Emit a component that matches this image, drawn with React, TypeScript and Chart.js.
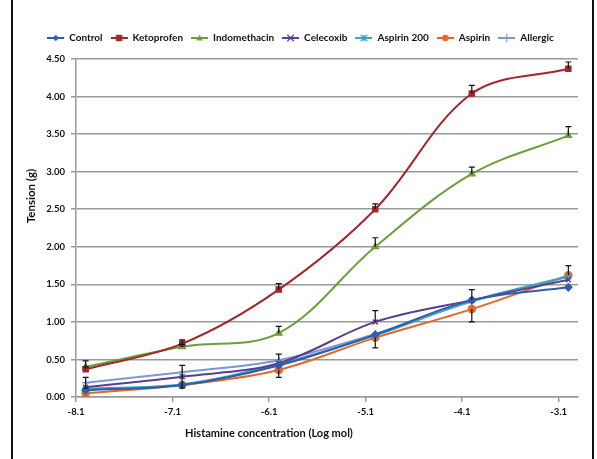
import React, { useEffect, useRef } from "react";
import { Chart, registerables } from "chart.js";

Chart.register(...registerables);

const xValues = [-8, -7, -6, -5, -4, -3];
const xTickValues = [-8.1, -7.1, -6.1, -5.1, -4.1, -3.1];

const seriesNames = ["Control", "Ketoprofen", "Indomethacin", "Celecoxib", "Aspirin 200", "Aspirin", "Allergic"];

const control = [0.09, 0.16, 0.42, 0.83, 1.29, 1.46];
const ketoprofen = [0.37, 0.71, 1.43, 2.5, 4.04, 4.37];
const indomethacin = [0.4, 0.67, 0.85, 2.0, 2.97, 3.48];
const celecoxib = [0.13, 0.27, 0.45, 1.0, 1.29, 1.56];
const aspirin200 = [0.11, 0.17, 0.44, 0.82, 1.28, 1.6];
const aspirin = [0.05, 0.16, 0.36, 0.79, 1.17, 1.62];
const allergic = [0.19, 0.33, 0.49, 0.84, 1.27, 1.61];

// error bars (upper / lower half-lengths)
const controlErrUp = [0, 0, 0, 0, 0, 0];
const controlErrDown = [0, 0, 0, 0, 0, 0];
const ketoprofenErrUp = [0.03, 0.05, 0.08, 0.07, 0.11, 0.09];
const ketoprofenErrDown = [0, 0, 0, 0, 0, 0];
const indomethacinErrUp = [0.08, 0.03, 0.09, 0.12, 0.09, 0.12];
const indomethacinErrDown = [0, 0, 0, 0, 0, 0];
const celecoxibErrUp = [0, 0.15, 0, 0.15, 0.14, 0];
const celecoxibErrDown = [0, 0.15, 0, 0, 0, 0];
const aspirin200ErrUp = [0, 0, 0, 0, 0, 0];
const aspirin200ErrDown = [0, 0, 0, 0, 0, 0];
const aspirinErrUp = [0, 0, 0, 0, 0, 0.13];
const aspirinErrDown = [0, 0, 0.1, 0.135, 0.17, 0];
const allergicErrUp = [0.07, 0, 0.08, 0, 0, 0];
const allergicErrDown = [0.07, 0, 0, 0, 0, 0];

const seriesValues = [control, ketoprofen, indomethacin, celecoxib, aspirin200, aspirin, allergic];
const seriesErrUp = [controlErrUp, ketoprofenErrUp, indomethacinErrUp, celecoxibErrUp, aspirin200ErrUp, aspirinErrUp, allergicErrUp];
const seriesErrDown = [controlErrDown, ketoprofenErrDown, indomethacinErrDown, celecoxibErrDown, aspirin200ErrDown, aspirinErrDown, allergicErrDown];
const seriesColors = ["#2F5DA8", "#A3262A", "#6B9E3C", "#5A3D8F", "#3EA3BF", "#E0692B", "#7B98D3"];
const seriesMarkers = ["rectRot", "rect", "triangle", "crossRot", "star", "circle", "cross"];

const xTitle = "Histamine concentration (Log mol)";
const yTitle = "Tension (g)";

const FONT = "Lato";

function legendIcon(color: string, marker: string): HTMLCanvasElement {
  const c = document.createElement("canvas");
  c.width = 17;
  c.height = 10;
  const ctx = c.getContext("2d")!;
  ctx.strokeStyle = color;
  ctx.fillStyle = color;
  ctx.lineWidth = 2;
  ctx.beginPath();
  ctx.moveTo(0, 5);
  ctx.lineTo(17, 5);
  ctx.stroke();
  const cx = 8.5, cy = 5, r = 3.2;
  ctx.lineWidth = 1.3;
  ctx.beginPath();
  switch (marker) {
    case "rectRot":
      ctx.moveTo(cx, cy - r); ctx.lineTo(cx + r, cy); ctx.lineTo(cx, cy + r); ctx.lineTo(cx - r, cy); ctx.closePath(); ctx.fill();
      break;
    case "rect":
      ctx.fillRect(cx - r, cy - r, 2 * r, 2 * r);
      break;
    case "triangle":
      ctx.moveTo(cx, cy - r); ctx.lineTo(cx + r, cy + r * 0.8); ctx.lineTo(cx - r, cy + r * 0.8); ctx.closePath(); ctx.fill();
      break;
    case "crossRot":
      ctx.moveTo(cx - r, cy - r); ctx.lineTo(cx + r, cy + r); ctx.moveTo(cx + r, cy - r); ctx.lineTo(cx - r, cy + r); ctx.stroke();
      break;
    case "star":
      ctx.moveTo(cx - r, cy - r); ctx.lineTo(cx + r, cy + r); ctx.moveTo(cx + r, cy - r); ctx.lineTo(cx - r, cy + r);
      ctx.moveTo(cx, cy - r); ctx.lineTo(cx, cy + r); ctx.stroke();
      break;
    case "circle":
      ctx.arc(cx, cy, r, 0, Math.PI * 2); ctx.fill();
      break;
    case "cross":
      ctx.moveTo(cx, cy - r - 1); ctx.lineTo(cx, cy + r + 1); ctx.stroke();
      break;
  }
  return c;
}

const errorBarPlugin = {
  id: "errorBars",
  afterDatasetsDraw(chart: any) {
    const { ctx, scales } = chart;
    ctx.save();
    ctx.strokeStyle = "#111";
    ctx.lineWidth = 1.2;
    seriesValues.forEach((vals, si) => {
      vals.forEach((v, i) => {
        const up = seriesErrUp[si][i];
        const down = seriesErrDown[si][i];
        if (!up && !down) return;
        const x = scales.x.getPixelForValue(xValues[i]);
        const yTop = scales.y.getPixelForValue(v + up);
        const yBot = scales.y.getPixelForValue(v - down);
        ctx.beginPath();
        ctx.moveTo(x, yTop);
        ctx.lineTo(x, yBot);
        if (up) { ctx.moveTo(x - 3, yTop); ctx.lineTo(x + 3, yTop); }
        if (down) { ctx.moveTo(x - 3, yBot); ctx.lineTo(x + 3, yBot); }
        ctx.stroke();
      });
    });
    ctx.restore();
  },
};

const titlesPlugin = {
  id: "axisTitles",
  beforeInit(chart: any) {
    const legend = chart.legend;
    if (legend) {
      const orig = legend.fit;
      legend.fit = function () {
        orig.call(this);
        this.height += 6;
      };
    }
  },
  afterDraw(chart: any) {
    const { ctx } = chart;
    ctx.save();
    ctx.fillStyle = "#111";
    ctx.font = `bold 11px ${FONT}`;
    ctx.textAlign = "center";
    ctx.textBaseline = "middle";
    ctx.fillText(xTitle, 269, 433);
    ctx.font = `bold 11.5px ${FONT}`;
    ctx.translate(31, 196);
    ctx.rotate(-Math.PI / 2);
    ctx.fillText(yTitle, 0, 0);
    ctx.restore();
  },
};

export default function App() {
  const ref = useRef<HTMLCanvasElement>(null);
  useEffect(() => {
    if (!ref.current) return;
    const icons = seriesNames.map((_, i) => legendIcon(seriesColors[i], seriesMarkers[i]));
    const chart = new Chart(ref.current, {
      type: "line",
      data: {
        datasets: seriesNames.map((name, i) => ({
          label: name,
          data: seriesValues[i].map((y, j) => ({ x: xValues[j], y })),
          borderColor: seriesColors[i],
          backgroundColor: seriesColors[i],
          borderWidth: 2,
          tension: 0.35,
          pointStyle: seriesMarkers[i] as any,
          pointRadius: 3.5,
          pointBorderWidth: 1.5,
          pointBorderColor: seriesColors[i],
          pointBackgroundColor: seriesColors[i],
          fill: false,
        })),
      },
      options: {
        animation: false,
        responsive: false,
        maintainAspectRatio: false,
        layout: { padding: { left: 23, right: 19, top: 25, bottom: 0 } },
        plugins: {
          legend: {
            display: true,
            position: "top",
            labels: {
              usePointStyle: true,
              pointStyleWidth: 17,
              padding: 8,
              color: "#111",
              font: { family: FONT, size: 10, weight: "bold" },
              generateLabels: () =>
                seriesNames.map((name, i) => ({
                  text: name,
                  pointStyle: icons[i] as any,
                  fillStyle: seriesColors[i],
                  strokeStyle: seriesColors[i],
                  lineWidth: 0,
                  datasetIndex: i,
                  hidden: false,
                  fontColor: "#111",
                })),
            },
          },
          tooltip: { enabled: false },
        },
        scales: {
          x: {
            type: "linear",
            min: -8.1,
            max: -2.9,
            afterBuildTicks: (scale: any) => {
              scale.ticks = xTickValues.map((v) => ({ value: v }));
            },
            afterFit: (scale: any) => {
              scale.height = 62;
            },
            ticks: {
              color: "#111",
              font: { family: FONT, size: 9.5, weight: "bold" },
              padding: 4,
              maxRotation: 0,
              callback: (v: any) => Number(v).toFixed(1),
            },
            grid: {
              drawOnChartArea: false,
              drawTicks: true,
              tickLength: 5,
              color: "#999",
              lineWidth: 1.5,
            },
            border: { display: true, color: "#999", width: 1.5 },
          },
          y: {
            min: 0,
            max: 4.5,
            afterFit: (scale: any) => {
              scale.width = 53;
            },
            ticks: {
              stepSize: 0.5,
              color: "#111",
              font: { family: FONT, size: 9.5, weight: "bold" },
              padding: 6,
              callback: (v: any) => Number(v).toFixed(2),
            },
            grid: {
              drawTicks: true,
              tickLength: 5,
              color: "#999",
              lineWidth: 1.5,
            },
            border: { display: true, color: "#999", width: 1.5 },
          },
        },
      },
      plugins: [errorBarPlugin, titlesPlugin],
    });
    return () => chart.destroy();
  }, []);

  return (
    <div style={{ position: "fixed", left: 0, top: 0, width: 597, height: 459, background: "#fff" }}>
      <canvas ref={ref} width={597} height={459} style={{ position: "absolute", left: 0, top: 0, width: 597, height: 459 }} />
      <div style={{ position: "absolute", left: 11, top: 0, width: 2, height: 459, background: "#111" }} />
      <div style={{ position: "absolute", left: 592, top: 0, width: 2, height: 459, background: "#111" }} />
    </div>
  );
}
